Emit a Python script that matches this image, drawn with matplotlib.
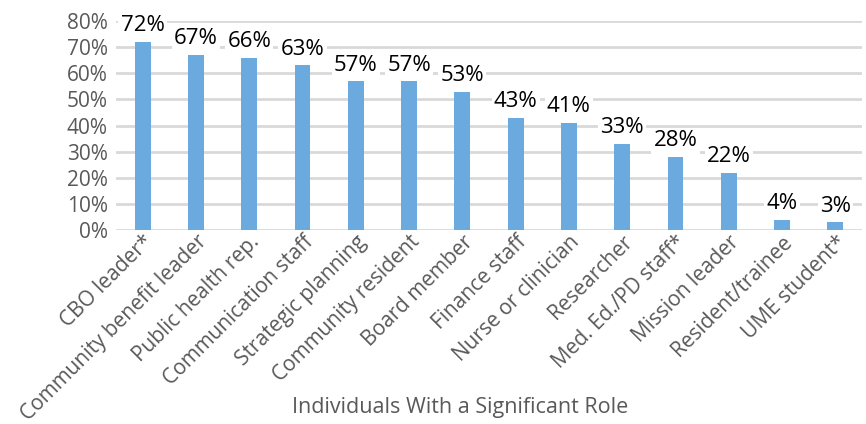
import matplotlib
matplotlib.use("Agg")
import matplotlib.pyplot as plt
from matplotlib.ticker import FuncFormatter

categories = ["CBO leader*", "Community benefit leader", "Public health rep.",
              "Communication staff", "Strategic planning", "Community resident",
              "Board member", "Finance staff", "Nurse or clinician", "Researcher",
              "Med. Ed./PD staff*", "Mission leader", "Resident/trainee", "UME student*"]
values = [72, 67, 66, 63, 57, 57, 53, 43, 41, 33, 28, 22, 4, 3]

plt.rcParams['font.family'] = ['Open Sans', 'DejaVu Sans']

fig = plt.figure(figsize=(8.66, 4.24), dpi=100)
ax = fig.add_axes([116/866, 1 - 230/424, (862-116)/866, (230-21)/424])

x = range(len(categories))
ax.bar(x, values, width=0.3, color='#6aaadf', zorder=2)
ax.set_xlim(-0.5, len(categories) - 0.5)
ax.set_ylim(0, 80)
ax.set_yticks(range(0, 81, 10))
ax.yaxis.set_major_formatter(FuncFormatter(lambda v, p: f"{int(v)}%"))
ax.grid(axis='y', color='#d9d9d9', linewidth=2, zorder=0)
for s in ax.spines.values():
    s.set_visible(False)
ax.tick_params(axis='y', length=0, labelsize=15, colors='#595959', pad=6)
ax.tick_params(axis='x', length=0, labelsize=15, colors='#595959', pad=1)
ax.set_xticks(list(x))
ax.set_xticklabels(categories, rotation=45, ha='right', rotation_mode='anchor')

for xi, v in zip(x, values):
    ax.annotate(f"{v}%", (xi, v), xytext=(0, 4), textcoords='offset points',
                ha='center', va='bottom', fontsize=16, color='black', zorder=3,
                bbox=dict(boxstyle='square,pad=0.1', fc='white', ec='none'))

fig.text(460/866, 1 - 408/424, "Individuals With a Significant Role", fontsize=15.5,
         color='#595959', ha='center', va='center')

fig.savefig("out.png", dpi=100)
